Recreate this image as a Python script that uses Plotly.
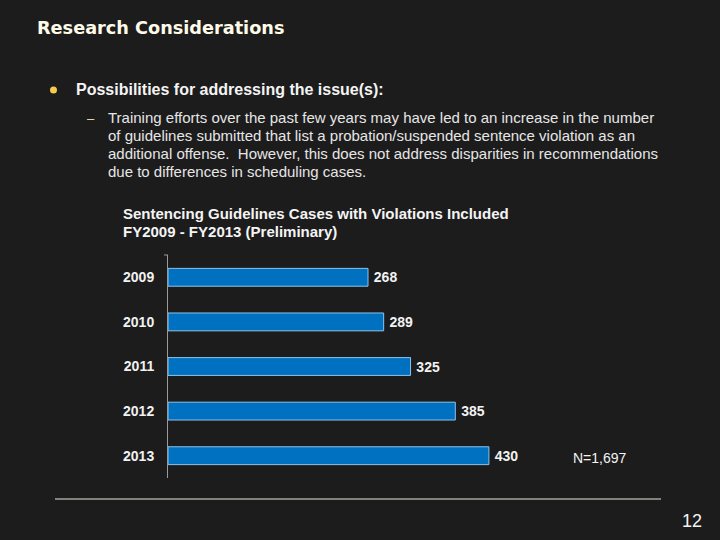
import plotly.graph_objects as go

years = ["2009", "2010", "2011", "2012", "2013"]
cases = [268, 289, 325, 385, 430]
total_label = "N=1,697"
page_number = "12"
slide_title = "Research Considerations"
bullet_text = "Possibilities for addressing the issue(s):"
para_lines = [
    "Training efforts over the past few years may have led to an increase in the number",
    "of guidelines submitted that list a probation/suspended sentence violation as an",
    "additional offense.  However, this does not address disparities in recommendations",
    "due to differences in scheduling cases.",
]
chart_title = ["Sentencing Guidelines Cases with Violations Included",
               "FY2009 - FY2013 (Preliminary)"]

BG = "#1c1c1c"
W, H = 720, 540
FONT = "Arial, Liberation Sans, sans-serif"

def px(x):
    return x / W

def py(y):
    return (H - y) / H

fig = go.Figure()
fig.add_trace(go.Bar(
    x=cases, y=years, orientation="h",
    width=0.4,
    marker=dict(color="#0070c0", line=dict(color="#8cc4ec", width=1)),
    text=cases, texttemplate="\u2009<b>%{x}</b>", textposition="outside",
    textfont=dict(family=FONT, size=14, color="#f2f2f2"),
    cliponaxis=False, hoverinfo="skip",
))

xr = 560
scale = 200 / 268
fig.update_layout(
    width=W, height=H, paper_bgcolor=BG, plot_bgcolor=BG,
    margin=dict(l=0, r=0, t=0, b=0), showlegend=False,
    xaxis=dict(domain=[px(168), px(168 + scale * xr)], range=[0, xr],
               visible=False, fixedrange=True),
    yaxis=dict(domain=[py(478), py(255)], type="category",
               categoryorder="array", categoryarray=years,
               autorange="reversed", showline=True, linecolor="#9a9a9a",
               linewidth=1, showgrid=False, zeroline=False, ticks="",
               ticklabelstandoff=10, fixedrange=True,
               tickfont=dict(family=FONT, size=14, color="#f2f2f2"),
               tickprefix="<b>", ticksuffix="</b>"),
)

# small tick at top of axis
fig.add_shape(type="line", xref="paper", yref="paper",
              x0=px(164), x1=px(168), y0=py(255), y1=py(255),
              line=dict(color="#9a9a9a", width=1))
# bottom separator line
fig.add_shape(type="line", xref="paper", yref="paper",
              x0=px(55), x1=px(661), y0=py(499), y1=py(499),
              line=dict(color="#e8e8d8", width=1))
# bullet dot
fig.add_shape(type="circle", xref="paper", yref="paper",
              x0=px(50), x1=px(57), y0=py(86.5), y1=py(93.5),
              fillcolor="#f5cc4a", line=dict(width=0))

def ann(x, y, text, size, color="#f0f0f0", bold=False, family=FONT, xanchor="left"):
    fig.add_annotation(xref="paper", yref="paper", x=px(x), y=py(y),
                       xanchor=xanchor, yanchor="middle", showarrow=False,
                       text=("<b>%s</b>" % text) if bold else text,
                       font=dict(family=family, size=size, color=color),
                       borderpad=0)

ann(36, 28, slide_title, 17.7, color="#fffbe8", bold=True, family="DejaVu Sans, sans-serif")
ann(75, 89, bullet_text, 16, color="#f4f4f4", bold=True)
ann(86, 119, "–", 13, color="#f0e6a0")
for i, line in enumerate(para_lines):
    ann(107, 117 + 18 * i, line, 15, color="#e6e6e6")
for i, line in enumerate(chart_title):
    ann(122, 213 + 19 * i, line, 15, color="#f4f4f4", bold=True)
ann(572, 458, total_label, 14, color="#f4f4f4")
ann(681, 521, page_number, 18, color="#f4f4f4")

fig.write_html("out.html", config={"displayModeBar": False},
               post_script="document.body.style.margin='0';")
